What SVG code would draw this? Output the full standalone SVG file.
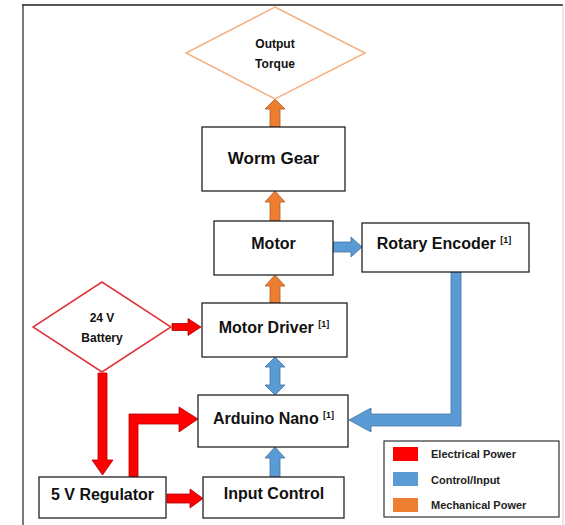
<svg xmlns="http://www.w3.org/2000/svg" width="565" height="525" viewBox="0 0 565 525">
<style>
.box{fill:#fff;stroke:#222;stroke-width:1.3}
.t{font-family:"Liberation Sans",Arial,sans-serif;font-weight:bold;fill:#111;text-anchor:middle}
.b{font-size:16px}
.s{font-size:9px}
.d{font-size:12px}
.lg{font-family:"Liberation Sans",Arial,sans-serif;font-weight:bold;font-size:11px;fill:#222}
.red{fill:#FF0000;stroke:#B00000;stroke-width:0.8}
.blue{fill:#5B9BD5;stroke:#41719C;stroke-width:0.8}
.orange{fill:#ED7D31;stroke:#AE5A21;stroke-width:0.8}
</style>
<rect width="565" height="525" fill="#fff"/>
<g id="frame">
<line x1="22" y1="5" x2="563" y2="5" stroke="#555" stroke-width="2"/>
<line x1="23" y1="5" x2="23" y2="525" stroke="#333" stroke-width="1.3"/>
<line x1="563" y1="5" x2="563" y2="525" stroke="#ccc" stroke-width="1"/>
</g>
<g id="connectors">
<polygon class="orange" points="270,127 270,109 265,109 275,99 285,109 280,109 280,127"/>
<polygon class="orange" points="270,221 270,202 265,202 275,191 285,202 280,202 280,221"/>
<polygon class="orange" points="270,303 270,286 265,286 275,275 285,286 280,286 280,303"/>
<polygon class="blue" points="333,242 351,242 351,237 362,247 351,257 351,252 333,252"/>
<polygon class="blue" points="275,357 285,367 280,367 280,385 285,385 275,395 265,385 270,385 270,367 265,367"/>
<polygon class="blue" points="270,477 270,458 265,458 275,447 285,458 280,458 280,477"/>
<polygon class="blue" points="451,272 461,272 461,426 371,426 371,432 349,420 371,408 371,414 451,414"/>
<polygon class="red" points="172,323.5 188,323.5 188,318.5 201,327 188,335.5 188,330.5 172,330.5"/>
<polygon class="red" points="98,373 107,373 107,460 113,460 102.5,475 92,460 98,460"/>
<polygon class="red" points="129,477 129,414 179,414 179,407 198,419 179,432 179,424 138,424 138,477"/>
<polygon class="red" points="167,494 190,494 190,489 203,498.5 190,508 190,503 167,503"/>
</g>
<g id="output-torque">
<polygon points="275,7 365,53 275,99 186,53" fill="#fff" stroke="#F4B183" stroke-width="1.5"/>
<text class="t d" x="275" y="48">Output</text>
<text class="t d" x="275" y="68">Torque</text>
</g>
<g id="worm-gear">
<rect class="box" x="202" y="127" width="143" height="64"/>
<text class="t" x="273.5" y="164" font-size="17">Worm Gear</text>
</g>
<g id="motor">
<rect class="box" x="214" y="221" width="119" height="54"/>
<text class="t b" x="273.5" y="249">Motor</text>
</g>
<g id="rotary-encoder">
<rect class="box" x="362" y="223" width="167" height="49"/>
<text class="t b" x="444" y="249">Rotary Encoder <tspan class="s" dy="-6">[1]</tspan></text>
</g>
<g id="motor-driver">
<rect class="box" x="202" y="303" width="145" height="54"/>
<text class="t b" x="274" y="333">Motor Driver <tspan class="s" dy="-6">[1]</tspan></text>
</g>
<g id="arduino-nano">
<rect class="box" x="198" y="395" width="150" height="52"/>
<text class="t b" x="273.5" y="424">Arduino Nano <tspan class="s" dy="-6">[1]</tspan></text>
</g>
<g id="input-control">
<rect class="box" x="203" y="477" width="141" height="41"/>
<text class="t b" x="274" y="499">Input Control</text>
</g>
<g id="battery">
<polygon points="102,282 171,327 102,372 33,327" fill="#fff" stroke="#E0353A" stroke-width="1.5"/>
<text class="t d" x="102" y="322">24 V</text>
<text class="t d" x="102" y="342">Battery</text>
</g>
<g id="regulator">
<rect class="box" x="39" y="477" width="127" height="41"/>
<text class="t b" x="102.5" y="500">5 V Regulator</text>
</g>
<g id="legend">
<rect x="384" y="441" width="175" height="76" fill="#fff" stroke="#333" stroke-width="1.2"/>
<rect x="393" y="447" width="25" height="14" fill="#FF0000"/>
<rect x="393" y="472" width="25" height="14" fill="#5B9BD5"/>
<rect x="393" y="498" width="25" height="14" fill="#ED7D31"/>
<text class="lg" x="431" y="458">Electrical Power</text>
<text class="lg" x="431" y="484">Control/Input</text>
<text class="lg" x="431" y="509">Mechanical Power</text>
</g>
</svg>
